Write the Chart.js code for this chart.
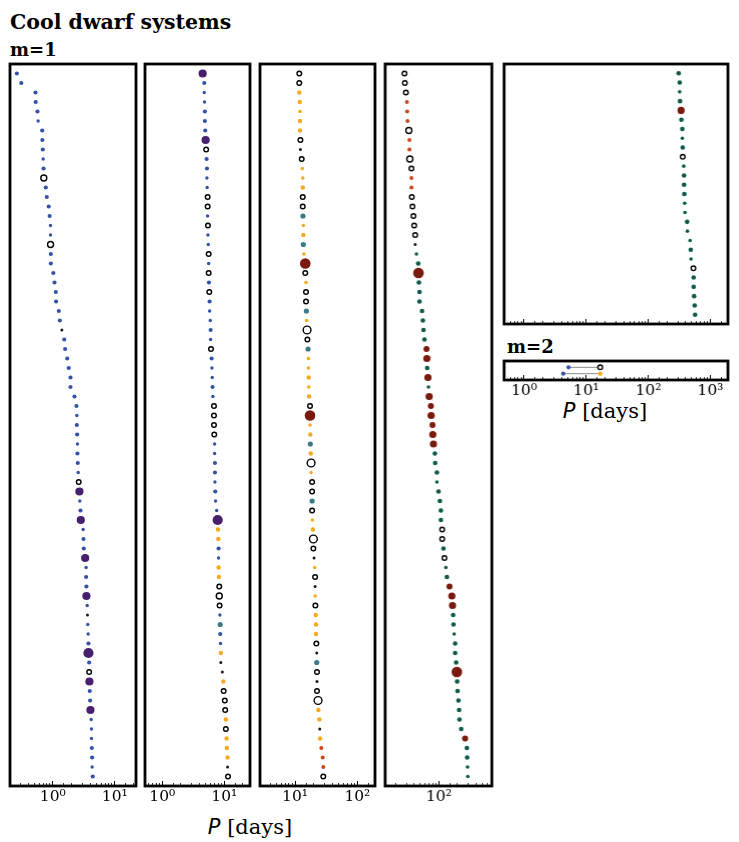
<!DOCTYPE html>
<html>
<head>
<meta charset="utf-8">
<script src="https://cdn.jsdelivr.net/npm/chart.js@4.4.1/dist/chart.umd.min.js"></script>
<style>
  html, body { margin:0; padding:0; background:#fff; }
  #wrap { position:relative; width:739px; height:842px; overflow:hidden; background:#fff; }
  canvas { position:absolute; }
  .txt { position:absolute; white-space:nowrap; line-height:1; color:#000; }
  .serifb { font-family:"DejaVu Serif", serif; font-weight:bold; }
  .lab { font-family:"DejaVu Serif", serif; text-align:center; }
  .lab i { font-family:"DejaVu Sans", sans-serif; font-style:oblique; }
</style>
</head>
<body>
<div id="wrap">
  <div class="txt serifb" style="left:10px;top:12px;font-size:20.5px;">Cool dwarf systems</div>
  <div class="txt serifb" style="left:10px;top:41px;font-size:18px;">m=1</div>
  <div class="txt serifb" style="left:507px;top:338px;font-size:18px;">m=2</div>
  <div class="txt lab" style="left:150px;width:200px;top:817px;font-size:21px;"><i>P</i> [days]</div>
  <div class="txt lab" style="left:505px;width:200px;top:401px;font-size:21px;"><i>P</i> [days]</div>
</div>
<script>
// ---------------- DATA ----------------
// Orbital periods [days], one planet per row, sorted; panels continue the sequence
const p1Periods = [0.263,0.31,0.526,0.53,0.566,0.58,0.675,0.68,0.69,0.70,
  0.71,0.716,0.77,0.80,0.86,0.89,0.918,0.92,0.92,0.93,
  0.93,1.02,1.065,1.12,1.13,1.25,1.30,1.40,1.53,1.58,
  1.71,1.81,1.93,1.93,2.24,2.41,2.44,2.44,2.47,2.50,
  2.50,2.53,2.57,2.62,2.69,2.73,2.80,2.83,3.09,3.13,
  3.16,3.33,3.45,3.45,3.49,3.49,3.59,3.63,3.67,3.72,
  3.76,3.76,3.86,3.86,3.90,3.95,4.0,4.05,4.16,4.21,
  4.21,4.26,4.31,4.31,4.42];
const p1Types = "bbbbbvbbbv" + "bCbbbbvvCb" + "bbbbbbbkbb" + "bbbbbbvbbv" + "bbvcPvbPvb" + "bPvbbPvkvv" + "bQbcPbbPvv" + "vbbvb";

const p2Periods = [4.48,4.76,4.76,4.8,4.87,4.87,4.93,5.0,5.1,5.18,
  5.25,5.25,5.3,5.39,5.39,5.39,5.45,5.45,5.52,5.6,
  5.6,5.6,5.66,5.73,5.8,5.8,5.95,6.02,6.02,6.1,
  6.25,6.32,6.4,6.47,6.55,6.82,6.82,6.82,6.9,6.98,
  6.98,7.07,7.07,7.07,7.15,7.24,7.54,7.83,7.92,8.02,
  8.1,8.1,8.1,8.2,8.3,8.3,8.4,8.5,8.6,8.6,
  8.7,8.8,8.8,9.3,9.64,9.77,10.2,10.35,10.6,10.6,
  10.9,11.0,11.3,11.3,11.5];
const p2Types = "PbvvbbbPcb" + "bvvccvcvvc" + "vcbcbvvbvc" + "bvvbvccccv" + "vbbvbvvQyy" + "bvyycCcvtb" + "vykkycccyc" + "yyykc";

const p3Periods = [11.7,11.7,11.7,11.9,12.0,12.0,12.0,12.2,12.2,12.8,
  13.1,13.3,13.3,13.3,13.3,13.4,13.6,13.6,13.6,13.9,
  14.6,14.6,15.0,15.0,15.0,15.2,15.4,15.6,15.8,16.2,
  16.4,16.4,16.6,16.6,16.8,17.4,17.4,17.4,17.6,17.6,
  17.9,18.1,18.1,18.8,18.8,18.8,18.8,18.95,19.4,19.7,
  19.7,20.2,20.7,21.0,21.0,21.0,21.2,21.5,21.7,21.7,
  22.0,22.3,22.3,22.5,22.5,22.5,23.4,23.7,24.6,24.9,
  25.2,26.4,27.8,28.4,28.4];
const p3Types = "ccyyzyyckc" + "zzycctzytz" + "RczcctzOct" + "zzyzycRzyt" + "yOzcctczyO" + "ckzckzcyyy" + "cktckcOyyk" + "yrrrc";

const p4Periods = [27.9,28.3,29.4,30.5,30.8,31.2,32.8,33.5,33.5,34.0,
  36.1,36.1,36.1,36.6,37.5,38.9,40.0,41.5,41.5,43.5,
  46.4,46.9,47.6,48.7,48.7,53.5,55.2,56.5,58.6,63.1,
  64.0,64.8,66.6,68.0,69.8,74.3,75.1,78.9,79.8,81.8,
  86.2,87.1,93.0,93.0,98.6,103.7,107.7,107.7,113,113,
  118.7,123,129.7,134.6,148.4,162,166,170,172,176.5,
  183,183,190,195,197,200,207,212,215,229,
  265,283,286,290,293];
const p4Types = "cccrrrCrrC" + "crrccccckh" + "gRgggggggD" + "EgEhEDEDEE" + "ggghggggcc" + "gchgDEEggh" + "gggRgggggg" + "Dgghh";

const p5Periods = [308,320,320,324,337,341,353,353,358,358,
  372,376,376,380,385,389,421,426,470,482,
  487,532,537,537,546,558,566];
const p5Types = "gghgEgghgc" + "hggghhghhg" + "hcggggg";

// m=2 systems: [inner, outer] periods per system
const m2Periods = [[5.18, 16.8], [4.26, 16.8]];
const m2Types = ["bc", "by"];

// axis limits per panel [days]
const p1Range = [0.204, 22.0];
const p2Range = [0.526, 26.0];
const p3Range = [2.74, 192];
const p4Range = [13.6, 716];
const p5Range = [0.476, 1915];

// ---------------- STYLE ----------------
const STYLE = {
  b:{fill:'#3553a6', r:2.1}, v:{fill:'#3553a6', r:1.7},
  P:{fill:'#461f6d', r:4.1}, Q:{fill:'#461f6d', r:5.1},
  k:{fill:'#1a1a1a', r:1.5},
  c:{open:true, r:2.3}, C:{open:true, r:3.0}, O:{open:true, r:3.9},
  y:{fill:'#f6aa1e', r:2.2}, z:{fill:'#f6aa1e', r:1.8},
  t:{fill:'#3b7b84', r:2.6},
  D:{fill:'#7a1a0e', r:3.0}, E:{fill:'#7a1a0e', r:3.6}, R:{fill:'#7a1a0e', r:5.3},
  r:{fill:'#c9461b', r:2.0},
  g:{fill:'#0e5a49', r:2.3}, h:{fill:'#0e5a49', r:1.8}
};
const PADX = 25, PADT = 6, AXH = 40;
const SUP = {'-1':'⁻¹', '0':'⁰', '1':'¹', '2':'²', '3':'³'};
const isMajor = v => { const l = Math.log10(v); return Math.abs(l - Math.round(l)) < 1e-6; };

const framePlugin = {
  id:'frame',
  afterDatasetsDraw(chart) {
    const a = chart.chartArea, ctx = chart.ctx;
    ctx.save(); ctx.lineWidth = 2.8; ctx.strokeStyle = '#000';
    ctx.strokeRect(a.left, a.top, a.right - a.left, a.bottom - a.top);
    ctx.restore();
  }
};

function styleArrays(types) {
  const s = types.map(t => STYLE[t]);
  return {
    pointRadius: s.map(o => o.r),
    pointHoverRadius: s.map(o => o.r),
    pointBackgroundColor: s.map(o => o.open ? '#ffffff' : o.fill),
    pointBorderColor: s.map(o => o.open ? '#000000' : o.fill),
    pointBorderWidth: s.map(o => o.open ? 1.4 : 0)
  };
}

function makePanel(box, range, nRows, datasets, showLabels) {
  const cv = document.createElement('canvas');
  const w = box.R - box.L + 2 * PADX, h = box.B - box.T + PADT + AXH;
  cv.width = w; cv.height = h;
  cv.style.left = (box.L - PADX) + 'px';
  cv.style.top = (box.T - PADT) + 'px';
  cv.style.width = w + 'px'; cv.style.height = h + 'px';
  document.getElementById('wrap').appendChild(cv);
  new Chart(cv, {
    type:'scatter',
    data:{ datasets },
    options:{
      responsive:false, animation:false, events:[], devicePixelRatio:1,
      layout:{ padding:{ left:PADX, right:PADX, top:PADT, bottom:0 } },
      plugins:{ legend:{display:false}, tooltip:{enabled:false} },
      scales:{
        y:{ type:'linear', display:false, min:-1, max:nRows, reverse:true },
        x2:{ type:'logarithmic', axis:'x', position:'bottom', weight:0,
             min:range[0], max:range[1],
             afterFit(s){ s.height = 0; },
             border:{display:false},
             grid:{ drawOnChartArea:false, drawTicks:true, tickLength:-3, lineWidth:0.8,
                    color: c => (c.tick && !isMajor(c.tick.value)) ? '#000' : 'rgba(0,0,0,0)' },
             ticks:{ display:false, autoSkip:false } },
        x:{ type:'logarithmic', position:'bottom', weight:1,
            min:range[0], max:range[1],
            afterFit(s){ s.height = AXH; },
            border:{display:false},
            grid:{ drawOnChartArea:false, drawTicks:true, tickLength:-5, lineWidth:1,
                   color: c => (c.tick && isMajor(c.tick.value)) ? '#000' : 'rgba(0,0,0,0)' },
            ticks:{ display:showLabels, autoSkip:false, maxRotation:0, padding:7, color:'#000',
                    font:{ family:'DejaVu Serif', size:15.5 },
                    callback: v => isMajor(v) ? '10' + SUP[String(Math.round(Math.log10(v)))] : '' } }
      }
    },
    plugins:[framePlugin]
  });
}

function columnDataset(periods, types) {
  const t = types.split('');
  return Object.assign({
    data: periods.map((p, i) => ({x:p, y:i})),
    showLine:false, clip:false
  }, styleArrays(t));
}

makePanel({L:9.5, R:135.5, T:64, B:786}, p1Range, p1Periods.length, [columnDataset(p1Periods, p1Types)], true);
makePanel({L:145, R:250, T:64, B:786}, p2Range, p2Periods.length, [columnDataset(p2Periods, p2Types)], true);
makePanel({L:260, R:375, T:64, B:786}, p3Range, p3Periods.length, [columnDataset(p3Periods, p3Types)], true);
makePanel({L:385, R:491.7, T:64, B:786}, p4Range, p4Periods.length, [columnDataset(p4Periods, p4Types)], true);
makePanel({L:504, R:727.5, T:64, B:324}, p5Range, p5Periods.length, [columnDataset(p5Periods, p5Types)], false);

const m2Sets = m2Periods.map((pair, i) => Object.assign({
  data: pair.map(p => ({x:p, y:i})),
  showLine:true, borderColor:'#8c8c8c', borderWidth:1, clip:false
}, styleArrays(m2Types[i].split(''))));
makePanel({L:504, R:727.5, T:361, B:380}, p5Range, m2Periods.length, m2Sets, true);
</script>
</body>
</html>
